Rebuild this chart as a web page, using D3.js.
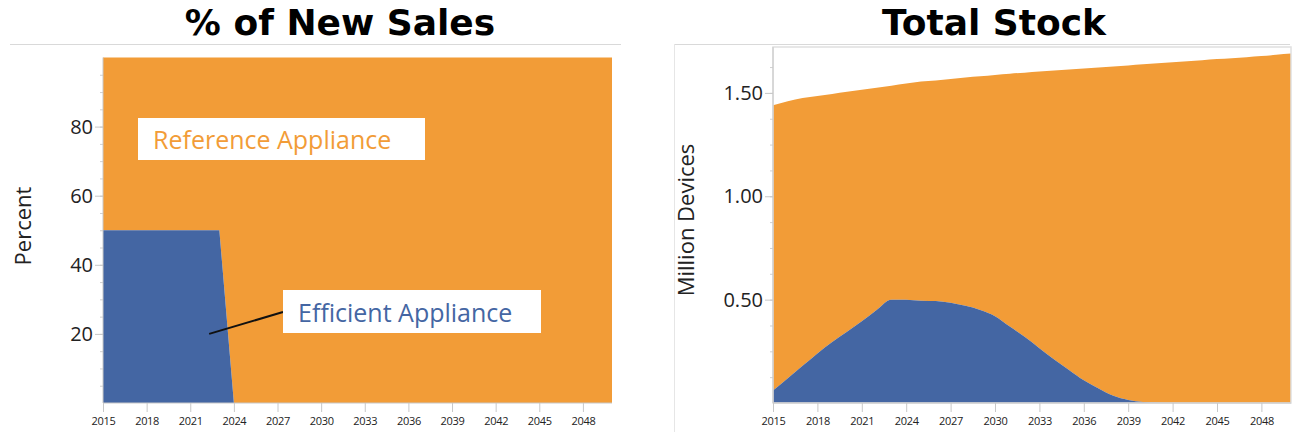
<!DOCTYPE html>
<html>
<head>
<meta charset="utf-8">
<script src="https://cdn.jsdelivr.net/npm/d3@7"></script>
<style>
  html, body { margin: 0; padding: 0; background: #fff; }
  svg { display: block; }
  text { font-family: "Open Sans", "Noto Sans", sans-serif; }
</style>
</head>
<body>
<svg id="chart" width="1296" height="432"></svg>
<script>
// Years covered by both panels
const years = d3.range(2015, 2051);

// Share of new sales (percent) going to the efficient appliance
const efficientSales = [
  50, 50, 50, 50, 50, 50, 50, 50, 50,
  0, 0, 0, 0, 0, 0, 0, 0, 0, 0, 0, 0, 0, 0, 0, 0, 0, 0, 0, 0, 0, 0, 0, 0, 0, 0, 0
];
// Reference appliance fills the rest of sales
const referenceSales = [
  50, 50, 50, 50, 50, 50, 50, 50, 50,
  100, 100, 100, 100, 100, 100, 100, 100, 100, 100, 100, 100, 100, 100, 100, 100, 100, 100, 100, 100, 100, 100, 100, 100, 100, 100, 100
];

// Installed stock, million devices
const efficientStock = [
  0.06, 0.12, 0.18, 0.24, 0.295, 0.345, 0.395, 0.45, 0.50, 0.50,
  0.495, 0.493, 0.485, 0.47, 0.45, 0.42, 0.37, 0.32, 0.265, 0.21,
  0.16, 0.11, 0.07, 0.035, 0.015, 0.005, 0.001, 0, 0, 0,
  0, 0, 0, 0, 0, 0
];
const referenceStock = [
  1.38, 1.34, 1.295, 1.245, 1.20, 1.16, 1.12, 1.075, 1.035, 1.045,
  1.06, 1.067, 1.082, 1.104, 1.13, 1.167, 1.223, 1.278, 1.338, 1.398,
  1.453, 1.508, 1.553, 1.593, 1.618, 1.633, 1.642, 1.648, 1.653, 1.658,
  1.664, 1.668, 1.673, 1.678, 1.684, 1.69
];

const salesTicks = [20, 40, 60, 80];
const stockTicks = [0.5, 1.0, 1.5];
const yearTicks = d3.range(2015, 2050, 3);

const ORANGE = "#F29C37";
const BLUE = "#4466A3";
const GRID = "#d9d9d9";
const AXIS = "#c8c8c8";

const svg = d3.select("#chart");

function panel(opts) {
  const g = svg.append("g");
  const x = d3.scaleLinear().domain([2015, 2050]).range([opts.left, opts.right]);
  const y = d3.scaleLinear().domain(opts.yDomain).range([opts.bottom, opts.top]);

  // title and separator rule
  g.append("text")
    .attr("x", opts.titleX).attr("y", 35)
    .attr("text-anchor", "middle")
    .style("font-family", "'DejaVu Sans', sans-serif")
    .style("font-weight", "bold")
    .style("font-size", "36px")
    .attr("fill", "#000")
    .text(opts.title);
  g.append("line")
    .attr("x1", opts.ruleX1).attr("x2", opts.ruleX2)
    .attr("y1", 44.5).attr("y2", 44.5)
    .attr("stroke", GRID).attr("stroke-width", 1.2);

  // stacked areas
  const bottomArea = d3.area()
    .x((d, i) => x(years[i]))
    .y0(y(0))
    .y1(d => y(d))
    .curve(opts.curve);
  const topArea = d3.area()
    .x((d, i) => x(years[i]))
    .y0((d, i) => y(opts.lower[i]))
    .y1((d, i) => y(opts.lower[i] + d))
    .curve(opts.curve);

  g.append("path").datum(opts.upper).attr("d", topArea).attr("fill", ORANGE);
  g.append("path").datum(opts.lower).attr("d", bottomArea).attr("fill", BLUE);

  // plot frame
  if (opts.frame) {
    g.append("rect")
      .attr("x", opts.left).attr("y", opts.top)
      .attr("width", opts.right - opts.left).attr("height", opts.bottom - opts.top)
      .attr("fill", "none").attr("stroke", "#e0e0e0").attr("stroke-width", 1.5);
  }

  // y axis with minor ticks
  const yMinor = d3.axisLeft(y).tickValues(d3.range(opts.minorStep, opts.yDomain[1], opts.minorStep))
    .tickSize(3).tickFormat("");
  g.append("g").attr("transform", `translate(${opts.left},0)`).call(yMinor)
    .call(a => a.select(".domain").remove())
    .call(a => a.selectAll("line").attr("stroke", "#d0d0d0"));
  const yAxis = d3.axisLeft(y).tickValues(opts.yTicks).tickSize(8).tickPadding(2)
    .tickFormat(opts.yFormat);
  g.append("g").attr("transform", `translate(${opts.left},0)`).call(yAxis)
    .call(a => a.select(".domain").attr("stroke", AXIS).attr("d", `M0,${opts.top}V${opts.bottom}`))
    .call(a => a.selectAll("line").attr("stroke", AXIS))
    .call(a => a.selectAll("text")
      .style("font-size", "20px").style("font-family", "'Open Sans', sans-serif")
      .attr("fill", "#222"));

  // x axis
  const xAxis = d3.axisBottom(x).tickValues(yearTicks).tickSize(9).tickPadding(5)
    .tickFormat(d3.format("d"));
  g.append("g").attr("transform", `translate(0,${opts.bottom})`).call(xAxis)
    .call(a => a.select(".domain").attr("stroke", AXIS).attr("d", `M${opts.left},0H${opts.right}`))
    .call(a => a.selectAll("line").attr("stroke", AXIS))
    .call(a => a.selectAll("text")
      .style("font-size", "11px").style("font-family", "'Open Sans', sans-serif")
      .attr("letter-spacing", "-0.3px")
      .attr("fill", "#222"));

  // y axis title
  g.append("text")
    .attr("transform", `translate(${opts.yTitleX},${opts.yTitleY}) rotate(-90)`)
    .attr("text-anchor", "middle")
    .style("font-size", "22px")
    .attr("fill", "#222")
    .text(opts.yTitle);

  return { g, x, y };
}

// Left panel: share of new sales
const left = panel({
  left: 103, right: 612, top: 57.5, bottom: 403,
  yDomain: [0, 100], yTicks: salesTicks, minorStep: 5, yFormat: d3.format("d"),
  lower: efficientSales, upper: referenceSales, curve: d3.curveLinear,
  title: "% of New Sales", titleX: 340, ruleX1: 10, ruleX2: 621,
  yTitle: "Percent", yTitleX: 31, yTitleY: 226, frame: false
});

// Right panel: total installed stock
const right = panel({
  left: 773, right: 1291, top: 47, bottom: 403,
  yDomain: [0, 1.722], yTicks: stockTicks, minorStep: 0.125, yFormat: d3.format(".2f"),
  lower: efficientStock, upper: referenceStock, curve: d3.curveMonotoneX,
  title: "Total Stock", titleX: 994, ruleX1: 674, ruleX2: 1290,
  yTitle: "Million Devices", yTitleX: 694, yTitleY: 220, frame: true
});

// panel divider on the right side
svg.append("line")
  .attr("x1", 674.5).attr("x2", 674.5).attr("y1", 44).attr("y2", 432)
  .attr("stroke", "#e6e6e6").attr("stroke-width", 1);

// series labels on the sales panel
function calloutBox(x0, cy, w, h, text, color) {
  left.g.append("rect")
    .attr("x", x0).attr("y", cy - h / 2)
    .attr("width", w).attr("height", h)
    .attr("fill", "#fff");
  left.g.append("text")
    .attr("x", x0 + 15).attr("y", cy)
    .attr("dominant-baseline", "central")
    .style("font-size", "25px")
    .attr("fill", color)
    .text(text);
}

calloutBox(138, 139, 287, 42, "Reference Appliance", ORANGE);

// leader line from the efficient area to its label
left.g.append("line")
  .attr("x1", left.x(2022.3)).attr("y1", left.y(20))
  .attr("x2", 283).attr("y2", 312)
  .attr("stroke", "#111").attr("stroke-width", 2);
calloutBox(283, 311.5, 258, 43, "Efficient Appliance", BLUE);
</script>
</body>
</html>
